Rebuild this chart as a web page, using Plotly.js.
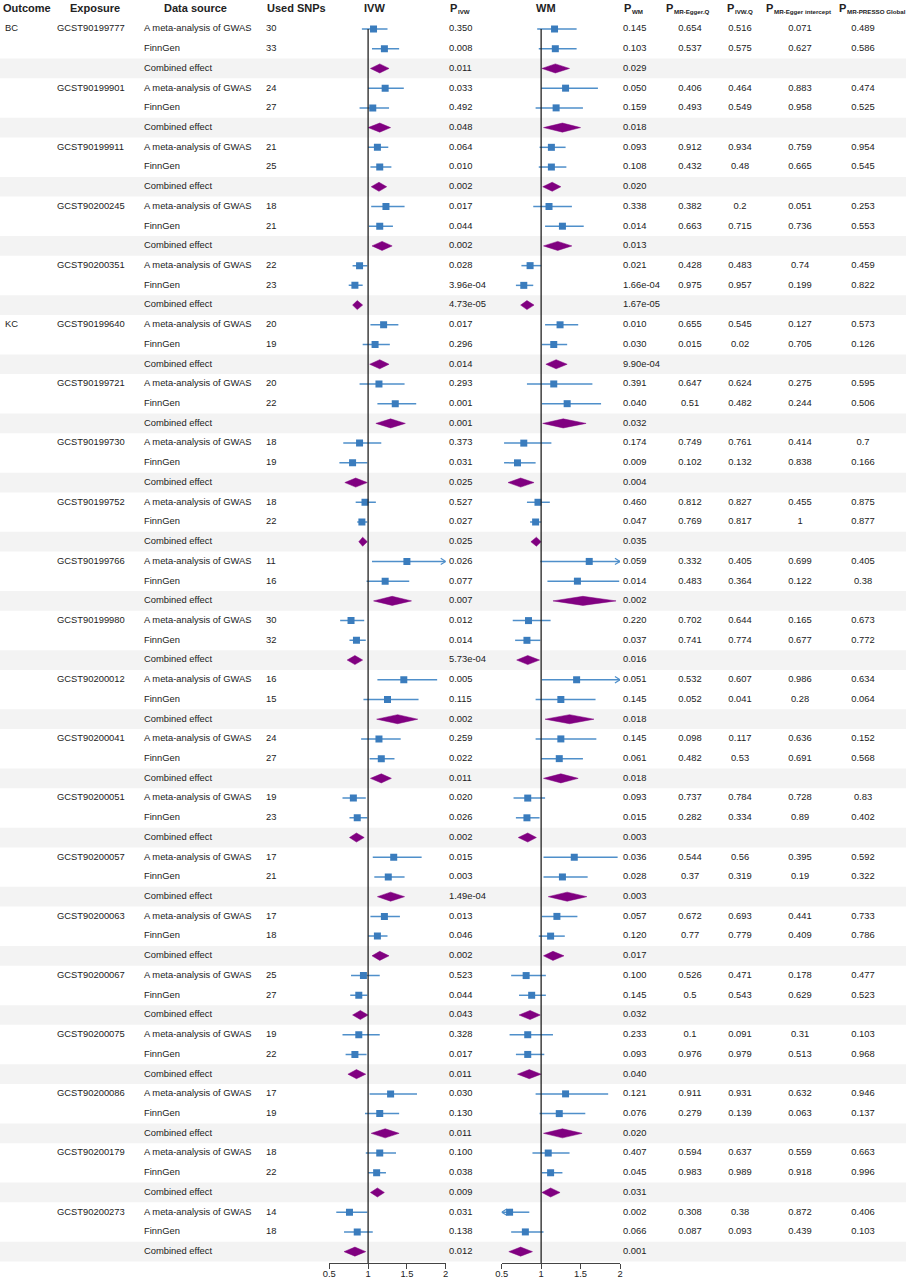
<!DOCTYPE html>
<html>
<head>
<meta charset="utf-8">
<script src="https://cdn.plot.ly/plotly-3.0.1.min.js"></script>
<style>html,body{margin:0;padding:0;background:#fff;}#chart{width:906px;height:1280px;}</style>
</head>
<body>
<div id="chart"></div>
<script>
// ---------------- DATA ----------------
const outcomes = ["BC", "KC"];
const outcomeFirstExposure = [0, 5];
const exposures = ["GCST90199777","GCST90199901","GCST90199911","GCST90200245","GCST90200351",
  "GCST90199640","GCST90199721","GCST90199730","GCST90199752","GCST90199766","GCST90199980",
  "GCST90200012","GCST90200041","GCST90200051","GCST90200057","GCST90200063","GCST90200067",
  "GCST90200075","GCST90200086","GCST90200179","GCST90200273"];
const dataSources = ["A meta-analysis of GWAS", "FinnGen", "Combined effect"];
const snpsMeta = [30,24,21,18,22,20,20,18,18,11,30,16,24,19,17,17,25,19,17,18,14];
const snpsFinn = [33,27,25,21,23,19,22,19,22,16,32,15,27,23,21,18,27,22,19,22,18];

// IVW estimates (per exposure: meta, FinnGen, combined)
const ivwEst = [1.07,1.21,1.15, 1.22,1.06,1.15, 1.12,1.15,1.14, 1.23,1.15,1.18, 0.89,0.83,0.86,
  1.20,1.09,1.15, 1.14,1.35,1.29, 0.89,0.80,0.84, 0.96,0.92,0.93, 1.50,1.22,1.31, 0.78,0.85,0.83,
  1.46,1.25,1.38, 1.14,1.17,1.17, 0.81,0.86,0.85, 1.33,1.26,1.29, 1.21,1.12,1.15, 0.94,0.88,0.90,
  0.88,0.83,0.85, 1.29,1.15,1.22, 1.15,1.11,1.12, 0.76,0.86,0.83];
const ivwLo = [0.92,1.05,1.03, 1.00,0.89,1.00, 1.00,1.03,1.04, 1.04,1.01,1.05, 0.80,0.75,0.80,
  1.03,0.93,1.02, 0.89,1.12,1.10, 0.68,0.63,0.70, 0.84,0.86,0.88, 1.05,0.98,1.07, 0.64,0.76,0.73,
  1.12,0.94,1.11, 0.91,1.02,1.03, 0.67,0.76,0.76, 1.06,1.08,1.12, 1.03,1.00,1.05, 0.78,0.77,0.80,
  0.67,0.71,0.74, 1.02,0.96,1.04, 0.97,1.00,1.03, 0.59,0.69,0.69];
const ivwHi = [1.25,1.40,1.27, 1.46,1.27,1.29, 1.26,1.30,1.24, 1.47,1.32,1.31, 0.99,0.93,0.93,
  1.39,1.28,1.27, 1.47,1.62,1.48, 1.17,0.99,0.99, 1.10,0.99,0.99, 2.15,1.53,1.56, 0.95,0.97,0.93,
  1.89,1.65,1.64, 1.42,1.34,1.30, 0.97,0.99,0.95, 1.69,1.47,1.47, 1.41,1.25,1.27, 1.15,0.99,1.00,
  1.15,0.98,0.97, 1.63,1.40,1.40, 1.36,1.23,1.21, 0.99,1.06,0.97];

// WM estimates
const wmEst = [1.17,1.18,1.18, 1.31,1.19,1.27, 1.13,1.13,1.14, 1.10,1.27,1.21, 0.86,0.78,0.82,
  1.24,1.16,1.19, 1.16,1.33,1.28, 0.78,0.70,0.74, 0.96,0.93,0.94, 1.61,1.46,1.53, 0.84,0.82,0.83,
  1.45,1.25,1.36, 1.25,1.23,1.25, 0.83,0.82,0.83, 1.42,1.27,1.33, 1.20,1.12,1.15, 0.81,0.88,0.86,
  0.83,0.83,0.85, 1.31,1.23,1.27, 1.09,1.12,1.12, 0.60,0.80,0.74];
const wmLo = [0.95,0.97,1.01, 1.00,0.93,1.03, 0.98,0.97,1.02, 0.90,1.05,1.03, 0.75,0.68,0.74,
  1.05,1.01,1.06, 0.82,1.01,1.02, 0.53,0.53,0.58, 0.82,0.86,0.87, 0.99,1.08,1.15, 0.64,0.67,0.69,
  1.01,0.93,1.05, 0.93,1.00,1.03, 0.65,0.68,0.71, 1.03,1.03,1.09, 1.01,0.97,1.03, 0.62,0.72,0.72,
  0.60,0.68,0.70, 0.93,0.98,1.03, 0.89,1.01,1.01, 0.45,0.62,0.59];
const wmHi = [1.45,1.45,1.36, 1.72,1.53,1.50, 1.31,1.32,1.25, 1.39,1.54,1.39, 1.00,0.90,0.91,
  1.47,1.33,1.33, 1.65,1.76,1.57, 1.13,0.93,0.91, 1.11,1.00,1.00, 2.30,1.99,1.95, 1.12,0.99,0.98,
  2.10,1.69,1.67, 1.70,1.53,1.47, 1.05,0.98,0.94, 1.97,1.59,1.58, 1.46,1.30,1.29, 1.06,1.06,0.99,
  1.15,1.04,1.00, 1.85,1.56,1.52, 1.36,1.27,1.24, 0.85,1.03,0.89];

const pIVW = ["0.350","0.008","0.011", "0.033","0.492","0.048", "0.064","0.010","0.002", "0.017","0.044","0.002",
  "0.028","3.96e-04","4.73e-05", "0.017","0.296","0.014", "0.293","0.001","0.001", "0.373","0.031","0.025",
  "0.527","0.027","0.025", "0.026","0.077","0.007", "0.012","0.014","5.73e-04", "0.005","0.115","0.002",
  "0.259","0.022","0.011", "0.020","0.026","0.002", "0.015","0.003","1.49e-04", "0.013","0.046","0.002",
  "0.523","0.044","0.043", "0.328","0.017","0.011", "0.030","0.130","0.011", "0.100","0.038","0.009",
  "0.031","0.138","0.012"];
const pWM = ["0.145","0.103","0.029", "0.050","0.159","0.018", "0.093","0.108","0.020", "0.338","0.014","0.013",
  "0.021","1.66e-04","1.67e-05", "0.010","0.030","9.90e-04", "0.391","0.040","0.032", "0.174","0.009","0.004",
  "0.460","0.047","0.035", "0.059","0.014","0.002", "0.220","0.037","0.016", "0.051","0.145","0.018",
  "0.145","0.061","0.018", "0.093","0.015","0.003", "0.036","0.028","0.003", "0.057","0.120","0.017",
  "0.100","0.145","0.032", "0.233","0.093","0.040", "0.121","0.076","0.020", "0.407","0.045","0.031",
  "0.002","0.066","0.001"];
// per exposure: meta, FinnGen
const pEggerQ = ["0.654","0.537", "0.406","0.493", "0.912","0.432", "0.382","0.663", "0.428","0.975",
  "0.655","0.015", "0.647","0.51", "0.749","0.102", "0.812","0.769", "0.332","0.483", "0.702","0.741",
  "0.532","0.052", "0.098","0.482", "0.737","0.282", "0.544","0.37", "0.672","0.77", "0.526","0.5",
  "0.1","0.976", "0.911","0.279", "0.594","0.983", "0.308","0.087"];
const pIVWQ = ["0.516","0.575", "0.464","0.549", "0.934","0.48", "0.2","0.715", "0.483","0.957",
  "0.545","0.02", "0.624","0.482", "0.761","0.132", "0.827","0.817", "0.405","0.364", "0.644","0.774",
  "0.607","0.041", "0.117","0.53", "0.784","0.334", "0.56","0.319", "0.693","0.779", "0.471","0.543",
  "0.091","0.979", "0.931","0.139", "0.637","0.989", "0.38","0.093"];
const pEggerInt = ["0.071","0.627", "0.883","0.958", "0.759","0.665", "0.051","0.736", "0.74","0.199",
  "0.127","0.705", "0.275","0.244", "0.414","0.838", "0.455","1", "0.699","0.122", "0.165","0.677",
  "0.986","0.28", "0.636","0.691", "0.728","0.89", "0.395","0.19", "0.441","0.409", "0.178","0.629",
  "0.31","0.513", "0.632","0.063", "0.559","0.918", "0.872","0.439"];
const pPresso = ["0.489","0.586", "0.474","0.525", "0.954","0.545", "0.253","0.553", "0.459","0.822",
  "0.573","0.126", "0.595","0.506", "0.7","0.166", "0.875","0.877", "0.405","0.38", "0.673","0.772",
  "0.634","0.064", "0.152","0.568", "0.83","0.402", "0.592","0.322", "0.733","0.786", "0.477","0.523",
  "0.103","0.968", "0.946","0.137", "0.663","0.996", "0.406","0.103"];

const axisTicks = [0.5, 1, 1.5, 2];
const axisTickText = ["0.5", "1", "1.5", "2"];

// ---------------- LAYOUT CONSTANTS ----------------
const W = 906, H = 1280, BOTTOM = 17;
const PLOT_H = H - BOTTOM;
const ROW0 = 29, PITCH = 19.72;
const yRange = [(PLOT_H - ROW0) / PITCH, -ROW0 / PITCH];
const FONT = "Liberation Sans, Arial, sans-serif";
const TXT = "#222";
const FS = 9.4;
const XMIN = 0.5, XMAX = 2;
const SQ = "#3a7cbd", CIL = "#4f8fca", DIA = "#800080";

const nRows = exposures.length * 3;
const rowIdx = [...Array(nRows).keys()];
const isComb = i => i % 3 === 2;

function forestTraces(est, lo, hi, xa) {
  const lx = [], ly = [], ax = [], ay = [], sx = [], sy = [], dx = [], dy = [];
  const adx = 5 / 78, ady = 0.16, dh = 0.23;
  rowIdx.forEach(i => {
    if (isComb(i)) {
      dx.push(lo[i], est[i], hi[i], est[i], lo[i], null);
      dy.push(i, i - dh, i, i + dh, i, null);
    } else {
      lx.push(Math.max(lo[i], XMIN), Math.min(hi[i], XMAX), null);
      ly.push(i, i, null);
      if (hi[i] > XMAX) { ax.push(XMAX - adx, XMAX, XMAX - adx, null); ay.push(i - ady, i, i + ady, null); }
      if (lo[i] < XMIN) { ax.push(XMIN + adx, XMIN, XMIN + adx, null); ay.push(i - ady, i, i + ady, null); }
      sx.push(est[i]); sy.push(i);
    }
  });
  return [
    {x: lx, y: ly, xaxis: xa, yaxis: "y", mode: "lines", line: {color: CIL, width: 1.5}, hoverinfo: "skip", cliponaxis: false},
    {x: ax, y: ay, xaxis: xa, yaxis: "y", mode: "lines", line: {color: CIL, width: 1.2}, hoverinfo: "skip", cliponaxis: false},
    {x: dx, y: dy, xaxis: xa, yaxis: "y", mode: "lines", fill: "toself", fillcolor: DIA, line: {color: DIA, width: 0.5}, hoverinfo: "skip"},
    {x: sx, y: sy, xaxis: xa, yaxis: "y", mode: "markers", marker: {symbol: "square", size: 7, color: SQ}, hoverinfo: "skip"}
  ];
}

function textCol(xpx, rows, texts, pos) {
  return {x: rows.map(() => xpx), y: rows, text: texts, xaxis: "x3", yaxis: "y", mode: "text",
    textposition: pos || "middle right", textfont: {family: FONT, size: FS, color: TXT}, hoverinfo: "skip", cliponaxis: false};
}

const traces = [];
traces.push(...forestTraces(ivwEst, ivwLo, ivwHi, "x"));
traces.push(...forestTraces(wmEst, wmLo, wmHi, "x2"));

const expRows = exposures.map((_, k) => 3 * k);
const ncRows = rowIdx.filter(i => !isComb(i));
const snps = ncRows.map(i => (i % 3 === 0 ? snpsMeta : snpsFinn)[Math.floor(i / 3)]);

traces.push(textCol(5, outcomeFirstExposure.map(k => 3 * k), outcomes));
traces.push(textCol(57, expRows, exposures));
traces.push(textCol(144, rowIdx, rowIdx.map(i => dataSources[i % 3])));
traces.push(textCol(266, ncRows, snps.map(String)));
traces.push(textCol(449, rowIdx, pIVW));
traces.push(textCol(623, rowIdx, pWM));
traces.push(textCol(690, ncRows, pEggerQ, "middle center"));
traces.push(textCol(740, ncRows, pIVWQ, "middle center"));
traces.push(textCol(800, ncRows, pEggerInt, "middle center"));
traces.push(textCol(863, ncRows, pPresso, "middle center"));

// headers: [left x px, main text, subscript]
const headerY = (7.5 - ROW0) / PITCH;
const subY = (11.3 - ROW0) / PITCH;
const headers = [
  [2, "Outcome", ""], [69, "Exposure", ""], [163, "Data source", ""], [266, "Used SNPs", ""],
  [363, "IVW", ""], [449, "P", "IVW"], [535, "WM", ""], [623, "P", "WM"],
  [665, "P", "MR-Egger.Q"], [726, "P", "IVW.Q"], [765, "P", "MR-Egger intercept"], [838, "P", "MR-PRESSO Global"]
];
const annotations = [];
headers.forEach(([x, t, s]) => {
  annotations.push({x: x, y: headerY, xref: "x3", yref: "y", text: "<b>" + t + "</b>", showarrow: false,
    xanchor: "left", yanchor: "middle", borderpad: 0, font: {family: FONT, size: 11, color: TXT}});
  if (s) annotations.push({x: x + 7.6, y: subY, xref: "x3", yref: "y", text: "<b>" + s + "</b>", showarrow: false,
    xanchor: "left", yanchor: "middle", borderpad: 0, font: {family: FONT, size: 6.2, color: TXT}});
});

const shapes = [];
rowIdx.filter(isComb).forEach(i => shapes.push({
  type: "rect", xref: "paper", yref: "y", x0: 0, x1: 1, y0: i - 0.5, y1: i + 0.5,
  fillcolor: "#f3f3f3", line: {width: 0}, layer: "below"
}));
["x", "x2"].forEach(xr => shapes.push({
  type: "line", xref: xr, yref: "y", x0: 1, x1: 1, y0: 0, y1: yRange[0],
  line: {color: "#222", width: 1.3}, layer: "above"
}));

function fAxis(dom) {
  return {domain: dom, range: [XMIN, XMAX], tickvals: axisTicks, ticktext: axisTickText, showline: true,
    linecolor: "#444", linewidth: 1, ticks: "outside", ticklen: 5, tickcolor: "#444", showgrid: false,
    zeroline: false, tickfont: {family: FONT, size: FS, color: TXT}, anchor: "y", fixedrange: true,
    ticklabelstandoff: -3};
}

const layout = {
  width: W, height: H, margin: {l: 0, r: 0, t: 0, b: BOTTOM, pad: 0}, showlegend: false,
  paper_bgcolor: "#fff", plot_bgcolor: "rgba(0,0,0,0)",
  xaxis: fAxis([329.3 / W, 445.7 / W]),
  xaxis2: fAxis([501.7 / W, 620 / W]),
  xaxis3: {domain: [0, 1], range: [0, W], visible: false, anchor: "y", fixedrange: true},
  yaxis: {domain: [0, 1], range: yRange, visible: false, fixedrange: true},
  shapes: shapes, annotations: annotations, font: {family: FONT}
};

Plotly.newPlot("chart", traces, layout, {staticPlot: true, displayModeBar: false});
</script>
</body>
</html>
